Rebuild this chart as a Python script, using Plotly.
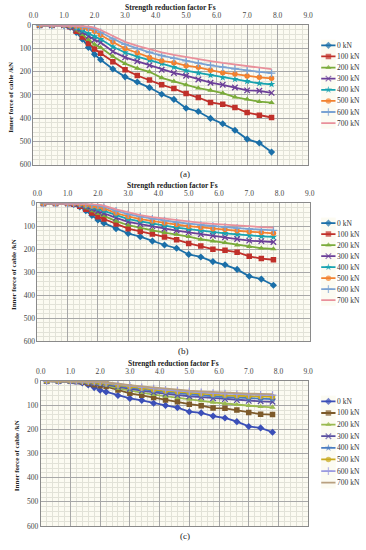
import plotly.graph_objects as go

W, H = 366, 550

# ---------------- data ----------------
X = [0.2, 0.6, 1.0, 1.2, 1.4, 1.6, 1.8, 2.0, 2.2, 2.6, 3.0, 3.4, 3.8, 4.2,
     4.6, 5.0, 5.4, 5.8, 6.2, 6.6, 7.0, 7.4, 7.8]
SERIES = ["0 kN", "100 kN", "200 kN", "300 kN", "400 kN", "500 kN", "600 kN", "700 kN"]
X_TICKS = [0, 1, 2, 3, 4, 5, 6, 7, 8, 9]
Y_TICKS = [0, 100, 200, 300, 400, 500, 600]

# panel (a)
A_0 = [0, 0, 0, 8, 30, 60, 95, 125, 148, 188, 222, 244, 268, 297, 319, 357, 371, 401, 424, 452, 490, 507, 546]
A_100 = [0, 0, 0, 6, 25, 50, 78, 102, 120, 157, 191, 216, 236, 256, 272, 294, 311, 332, 340, 354, 376, 387, 397]
A_200 = [0, 0, 0, 5, 20, 40, 62, 82, 96, 134, 165, 185, 200, 226, 241, 256, 270, 280, 292, 309, 318, 329, 333]
A_300 = [0, 0, 0, 4, 15, 30, 47, 62, 74, 113, 138, 155, 172, 191, 205, 217, 233, 247, 256, 268, 280, 282, 291]
A_400 = [0, 0, 0, 3, 10, 22, 35, 48, 60, 92, 117, 135, 150, 165, 180, 195, 205, 215, 225, 232, 241, 250, 254]
A_500 = [0, 0, 0, 1, 4, 9, 15, 25, 42, 72, 100, 118, 138, 153, 161, 174, 181, 193, 204, 210, 218, 224, 228]
A_600 = [0, 0, 0, 0, 2, 5, 9, 15, 30, 58, 82, 100, 116, 130, 142, 153, 163, 172, 180, 187, 194, 200, 206]
A_700 = [0, 0, 0, 0, 1, 3, 5, 10, 20, 45, 71, 88, 103, 116, 127, 137, 146, 154, 162, 169, 176, 183, 189]

# panel (b)
B_0 = [0, 0, 0, 5, 15, 32, 52, 72, 86, 110, 131, 145, 164, 181, 195, 222, 233, 253, 267, 287, 317, 329, 356]
B_100 = [0, 0, 0, 4, 12, 26, 42, 58, 68, 90, 110, 122, 133, 146, 158, 174, 185, 199, 204, 212, 230, 240, 245]
B_200 = [0, 0, 0, 3, 9, 20, 33, 45, 53, 77, 95, 107, 117, 127, 135, 145, 156, 164, 171, 182, 188, 195, 198]
B_300 = [0, 0, 0, 2, 7, 15, 25, 35, 43, 63, 80, 90, 100, 110, 118, 126, 134, 141, 147, 155, 162, 164, 168]
B_400 = [0, 0, 0, 1, 5, 11, 18, 25, 33, 52, 68, 78, 88, 97, 105, 112, 119, 125, 130, 135, 140, 143, 146]
B_500 = [0, 0, 0, 0, 3, 7, 11, 15, 22, 42, 57, 68, 77, 85, 92, 99, 105, 110, 114, 119, 123, 127, 130]
B_600 = [0, 0, 0, 0, 1, 3, 5, 8, 14, 32, 47, 58, 67, 75, 82, 88, 94, 99, 103, 108, 111, 114, 117]
B_700 = [0, 0, 0, 0, 0, 1, 3, 5, 10, 26, 40, 51, 60, 67, 74, 80, 85, 89, 93, 97, 100, 103, 105]

# panel (c)
C_0 = [0, 0, 0, 3, 8, 16, 27, 38, 45, 60, 72, 80, 92, 101, 110, 127, 132, 145, 153, 168, 188, 194, 212]
C_100 = [0, 0, 0, 2, 5, 10, 15, 20, 23, 37, 51, 59, 68, 79, 86, 96, 102, 112, 113, 120, 130, 137, 139]
C_200 = [0, 0, 0, 1, 4, 7, 11, 14, 18, 30, 40, 48, 56, 63, 70, 76, 82, 88, 93, 98, 102, 106, 109]
C_300 = [0, 0, 0, 1, 3, 5, 8, 10, 14, 24, 33, 40, 47, 53, 58, 63, 67, 71, 75, 79, 82, 84, 86]
C_400 = [0, 0, 0, 1, 2, 4, 6, 8, 11, 20, 28, 35, 41, 46, 51, 55, 59, 63, 66, 69, 72, 74, 75]
C_500 = [0, 0, 0, 0, 1, 3, 4, 6, 9, 17, 24, 30, 36, 41, 45, 49, 53, 56, 59, 61, 63, 64, 65]
C_600 = [0, 0, 0, 0, 1, 2, 3, 4, 7, 14, 20, 26, 31, 36, 40, 44, 47, 50, 52, 54, 56, 57, 58]
C_700 = [0, 0, 0, 0, 0, 1, 2, 3, 5, 12, 17, 22, 27, 32, 36, 40, 43, 46, 48, 50, 52, 53, 54]

PANEL_DATA = [
    [A_0, A_100, A_200, A_300, A_400, A_500, A_600, A_700],
    [B_0, B_100, B_200, B_300, B_400, B_500, B_600, B_700],
    [C_0, C_100, C_200, C_300, C_400, C_500, C_600, C_700],
]
PANEL_LABELS = ["(a)", "(b)", "(c)"]

# ---------------- styles ----------------
COLORS_AB = ["#1b6fa8", "#c0302a", "#7aab3a", "#6b3e98", "#17a3b0", "#f2812f", "#7ba3d3", "#e9909b"]
COLORS_C = ["#3b4fb8", "#7d5a2a", "#9aba50", "#5a4fa0", "#4a7cc0", "#c8aa1e", "#9b9be0", "#b8a080"]
PANEL_COLORS = [COLORS_AB, COLORS_AB, COLORS_C]
SYMBOLS = ["diamond", "square", "triangle-up", "x-thin-open", "star", "circle", "cross-thin-open", None]
SIZES = [5.5, 5.5, 5.5, 5.5, 5.5, 5.5, 5.5, 0]

FONT = "Liberation Serif"

# pixel geometry of each panel
GEOM = [
    dict(x0=29.3, x1=311.7, y0=21.7, y1=163.3, title_y=4, title_x=170, ytitle_x=6,
         label_y=173, label_x=185, leg_y0=42, leg_dy=11.3),
    dict(x0=33.3, x1=313.3, y0=202.7, y1=343.0, title_y=185, title_x=172, ytitle_x=10,
         label_y=353, label_x=184, leg_y0=222.7, leg_dy=11.2),
    dict(x0=36.7, x1=311.7, y0=383.3, y1=530.7, title_y=365, title_x=173, ytitle_x=13,
         label_y=541, label_x=185, leg_y0=404, leg_dy=11.8),
]
LEG_X0, LEG_X1, LEG_TX = 325, 340, 340.5


def px_x(v):
    return v / W


def px_y(v):
    return 1 - v / H


fig = go.Figure()
layout = dict(
    width=W, height=H, margin=dict(l=0, r=0, t=0, b=0),
    paper_bgcolor="white", plot_bgcolor="#fcfbf2", showlegend=False,
    font=dict(family=FONT, size=7, color="#333"),
)
annotations = []

for p in range(3):
    g = GEOM[p]
    ax = "" if p == 0 else str(p + 1)
    lax = str(p + 4)
    layout["xaxis" + ax] = dict(
        domain=[px_x(g["x0"]), px_x(g["x1"])], anchor="y" + ax, side="top",
        range=[0, 9], tickvals=X_TICKS, tickformat=".1f",
        showgrid=True, gridcolor="#a8a8a8", gridwidth=1,
        minor=dict(dtick=0.2, showgrid=True, gridcolor="#e2e2d8", gridwidth=0.5),
        showline=True, linecolor="#8a8a8a", linewidth=1, mirror=True,
        ticks="", ticklabelstandoff=3,
        tickfont=dict(family=FONT, size=7.5, color="#444"), zeroline=False,
    )
    layout["yaxis" + ax] = dict(
        domain=[px_y(g["y1"]), px_y(g["y0"])], anchor="x" + ax,
        range=[600, 0], tickvals=Y_TICKS,
        showgrid=True, gridcolor="#a8a8a8", gridwidth=1,
        minor=dict(dtick=20, showgrid=True, gridcolor="#e2e2d8", gridwidth=0.5),
        showline=True, linecolor="#8a8a8a", linewidth=1, mirror=True,
        ticks="", tickfont=dict(family=FONT, size=7.5, color="#444"), zeroline=False,
    )
    # legend axes
    top = g["leg_y0"] - g["leg_dy"] / 2
    bot = g["leg_y0"] + g["leg_dy"] * 7.5
    layout["xaxis" + lax] = dict(domain=[px_x(LEG_X0), px_x(LEG_X1)], range=[0, 1],
                                 visible=False, anchor="y" + lax, fixedrange=True)
    layout["yaxis" + lax] = dict(domain=[px_y(bot), px_y(top)], range=[7.5, -0.5],
                                 visible=False, anchor="x" + lax, fixedrange=True)

    cols = PANEL_COLORS[p]
    for i, name in enumerate(SERIES):
        sym = SYMBOLS[i]
        has_marker = sym is not None
        mk = dict(size=SIZES[i], color=cols[i], symbol=sym or "circle")
        if sym and "thin" in sym:
            mk["line"] = dict(width=1.3, color=cols[i])
        else:
            mk["line"] = dict(width=0)
        fig.add_trace(go.Scatter(
            x=X, y=PANEL_DATA[p][i], name=name,
            mode="lines+markers" if has_marker else "lines",
            line=dict(color=cols[i], width=1.8),
            marker=mk, xaxis="x" + ax, yaxis="y" + ax,
        ))
        # legend sample
        mk2 = dict(mk)
        mk2["size"] = [0, SIZES[i], 0]
        fig.add_trace(go.Scatter(
            x=[0, 0.5, 1], y=[i, i, i],
            mode="lines+markers" if has_marker else "lines",
            line=dict(color=cols[i], width=1.8), marker=mk2,
            xaxis="x" + lax, yaxis="y" + lax, hoverinfo="skip",
        ))
        annotations.append(dict(
            x=px_x(LEG_TX), y=px_y(g["leg_y0"] + g["leg_dy"] * i), xref="paper", yref="paper",
            text=name, showarrow=False, xanchor="left", yanchor="middle", borderpad=0,
            font=dict(family=FONT, size=7.5, color="#333"),
        ))

    annotations.append(dict(
        x=px_x(g["title_x"]), y=px_y(g["title_y"]), xref="paper", yref="paper",
        text="<b>Strength reduction factor Fs</b>", showarrow=False,
        xanchor="center", yanchor="middle", font=dict(family=FONT, size=7.5, color="#222"),
    ))
    annotations.append(dict(
        x=px_x(g["ytitle_x"]), y=px_y((g["y0"] + g["y1"]) / 2 + 2), xref="paper", yref="paper",
        text="<b>Inner force of cable /kN</b>", showarrow=False, textangle=-90,
        xanchor="center", yanchor="middle", font=dict(family=FONT, size=7, color="#222"),
    ))
    annotations.append(dict(
        x=px_x(g["label_x"]), y=px_y(g["label_y"]), xref="paper", yref="paper",
        text=PANEL_LABELS[p], showarrow=False,
        xanchor="center", yanchor="middle", font=dict(family=FONT, size=9, color="#222"),
    ))

layout["annotations"] = annotations
fig.update_layout(**layout)
fig.write_html("out.html", config={"displayModeBar": False},
               post_script="document.body.style.margin='0px';")
